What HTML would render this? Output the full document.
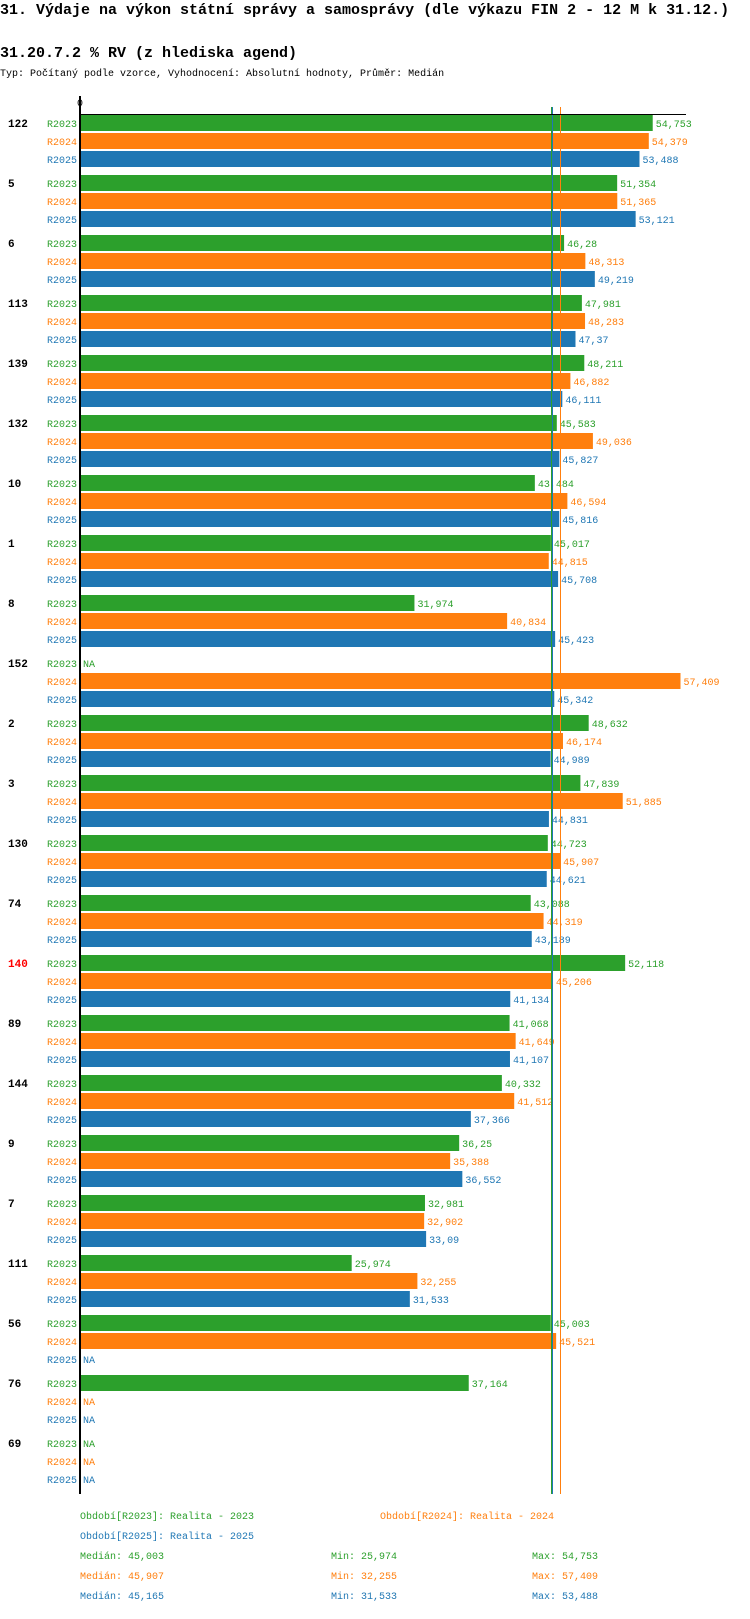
<!DOCTYPE html>
<html><head><meta charset="utf-8">
<style>
body{margin:0;background:#fff;width:750px;height:1614px;overflow:hidden;font-family:"Liberation Mono",monospace;}
svg text{font-family:"Liberation Mono","DejaVu Sans Mono",monospace;}
</style></head>
<body>
<svg id="chart" width="750" height="1614" xmlns="http://www.w3.org/2000/svg">
<text x="0" y="14" font-size="15" font-weight="bold">31. Výdaje na výkon státní správy a samosprávy (dle výkazu FIN 2 - 12 M k 31.12.)</text>
<text x="0" y="57" font-size="15" font-weight="bold">31.20.7.2 % RV (z hlediska agend)</text>
<text x="0" y="76" font-size="10">Typ: Počítaný podle vzorce, Vyhodnocení: Absolutní hodnoty, Průměr: Medián</text>
<g id="plot"></g>
<g id="legend"></g>
</svg>
<script>
const categories=["122","5","6","113","139","132","10","1","8","152","2","3","130","74","140","89","144","9","7","111","56","76","69"];
const series=["R2023","R2024","R2025"];
const v2023=[54.753,51.354,46.28,47.981,48.211,45.583,43.484,45.017,31.974,null,48.632,47.839,44.723,43.088,52.118,41.068,40.332,36.25,32.981,25.974,45.003,37.164,null];
const v2024=[54.379,51.365,48.313,48.283,46.882,49.036,46.594,44.815,40.834,57.409,46.174,51.885,45.907,44.319,45.206,41.649,41.512,35.388,32.902,32.255,45.521,null,null];
const v2025=[53.488,53.121,49.219,47.37,46.111,45.827,45.816,45.708,45.423,45.342,44.989,44.831,44.621,43.189,41.134,41.107,37.366,36.552,33.09,31.533,null,null,null];
const medians=[45.003,45.907,45.165];
const mins=["25,974","32,255","31,533"];
const maxs=["54,753","57,409","53,488"];
const periodNames=["Realita - 2023","Realita - 2024","Realita - 2025"];
const highlight="140";

const colors=["#2ca02c","#ff7f0e","#1f77b4"];
const X0=80,SC=10.46,TOP=115,GP=60,RP=18,BH=16;
const x=v=>X0+v*SC;
const ns="http://www.w3.org/2000/svg";
const plot=document.getElementById('plot');
function mk(tag,attrs,parent){const e=document.createElementNS(ns,tag);for(const k in attrs)e.setAttribute(k,attrs[k]);parent.appendChild(e);return e;}
function fmt(v){return String(+v.toFixed(3)).replace('.',',');}
const data=[v2023,v2024,v2025];
categories.forEach((c,g)=>{
  const gy=TOP+GP*g;
  const t=mk('text',{x:8,y:gy+12,'font-size':11,'font-weight':'bold',fill:c===highlight?'#ff0000':'#000'},plot);
  
  
  t.textContent=c;
  series.forEach((s,r)=>{
    const y=gy+RP*r;
    const sl=mk('text',{x:77,y:y+12,'font-size':10,'text-anchor':'end',fill:colors[r]},plot);
    
    
    sl.textContent=s;
    const v=data[r][g];
    if(v==null){
      const na=mk('text',{x:83,y:y+12,'font-size':10,fill:colors[r]},plot);
      
      
      na.textContent='NA';
    }else{
      const b=mk('rect',{x:X0,y:y,width:x(v)-X0,height:BH,fill:colors[r]},plot);
      
      
      const vl=mk('text',{x:x(v)+3,y:y+12,'font-size':10,fill:colors[r]},plot);
      
      
      vl.textContent=fmt(v);
    }
  });
});
medians.forEach((m,i)=>{
  const xm=Math.round(x(m))+0.5;
  const l=mk('line',{x1:xm,x2:xm,y1:TOP-8,y2:1494,stroke:colors[i],'stroke-width':1},plot);
  
  
});
const ax=mk('line',{x1:X0,x2:X0,y1:96,y2:1494,stroke:'#000','stroke-width':2},plot);


const tl=mk('line',{x1:X0,x2:686,y1:114.5,y2:114.5,stroke:'#000','stroke-width':1},plot);


const z=mk('text',{x:X0,y:106,'font-size':10,'text-anchor':'middle'},plot);


z.textContent='0';

const lg=document.getElementById('legend');
const lpos=[[80,1519],[380,1519],[80,1539]];
series.forEach((s,i)=>{
  const t=mk('text',{x:lpos[i][0],y:lpos[i][1],'font-size':10,fill:colors[i]},lg);
  
  
  t.textContent='Období['+s+']: '+periodNames[i];
  const y=1559+20*i;
  const a=mk('text',{x:80,y:y,'font-size':10,fill:colors[i]},lg);
  
  
  a.textContent='Medián: '+fmt(medians[i]);
  const b=mk('text',{x:331,y:y,'font-size':10,fill:colors[i]},lg);
  
  
  b.textContent='Min: '+mins[i];
  const c=mk('text',{x:532,y:y,'font-size':10,fill:colors[i]},lg);
  
  
  c.textContent='Max: '+maxs[i];
});
</script>
</body></html>
